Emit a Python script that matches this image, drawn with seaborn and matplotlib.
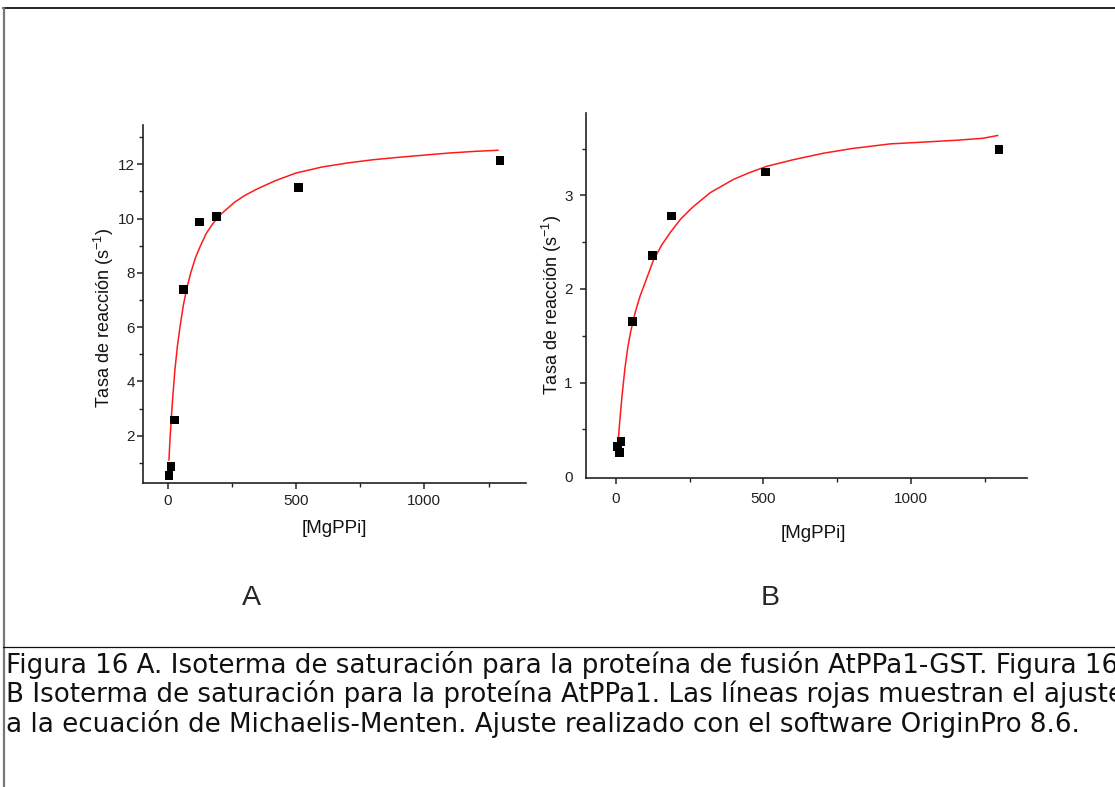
import matplotlib
matplotlib.use("Agg")
import matplotlib.pyplot as plt
from matplotlib.lines import Line2D
from matplotlib.ticker import FixedLocator
import numpy as np
import pandas as pd
import seaborn as sns

# ---------------- data ----------------
# Panel A: AtPPa1-GST
a_conc = [5, 13, 27, 62, 125, 189, 509, 1295]
a_rate = [0.55, 0.86, 2.58, 7.40, 9.88, 10.07, 11.14, 12.13]
a_fit_conc = [5, 9, 14, 19, 28, 38, 48, 61, 75, 90, 108, 126, 150, 175, 200, 230, 260,
              300, 350, 420, 500, 600, 700, 800, 900, 1000, 1100, 1200, 1288]
a_fit_rate = [1.10, 1.84, 2.60, 3.30, 4.40, 5.30, 6.00, 6.80, 7.45, 8.00, 8.55, 8.96,
              9.45, 9.80, 10.10, 10.35, 10.60, 10.85, 11.10, 11.40, 11.68, 11.90, 12.05,
              12.17, 12.26, 12.34, 12.42, 12.48, 12.52]

# Panel B: AtPPa1
b_conc = [6, 11, 17, 55, 124, 188, 508, 1299]
b_rate = [0.32, 0.25, 0.37, 1.65, 2.36, 2.78, 3.25, 3.49]
b_fit_conc = [4.5, 9, 14, 20, 30, 40, 50, 65, 81, 100, 127, 155, 183, 220, 262, 320, 398,
              450, 511, 600, 703, 800, 930, 1048, 1161, 1245, 1295]
b_fit_rate = [0.23, 0.45, 0.64, 0.85, 1.15, 1.38, 1.55, 1.75, 1.92, 2.08, 2.31, 2.47,
              2.60, 2.75, 2.88, 3.03, 3.17, 3.24, 3.31, 3.38, 3.45, 3.50, 3.55, 3.57,
              3.59, 3.61, 3.64]

a_xticks = [0, 500, 1000]
a_xtick_labels = ["0", "500", "1000"]
a_yticks = [2, 4, 6, 8, 10, 12]
a_ytick_labels = ["2", "4", "6", "8", "10", "12"]
b_xticks = [0, 500, 1000]
b_xtick_labels = ["0", "500", "1000"]
b_yticks = [0, 1, 2, 3]
b_ytick_labels = ["0", "1", "2", "3"]

ylabel_text = "Tasa de reacción (s$^{-1}$)"
xlabel_text = "[MgPPi]"
panel_labels = ["A", "B"]
caption_lines = [
    "Figura 16 A. Isoterma de saturación para la proteína de fusión AtPPa1-GST. Figura 16",
    "B Isoterma de saturación para la proteína AtPPa1. Las líneas rojas muestran el ajuste",
    "a la ecuación de Michaelis-Menten. Ajuste realizado con el software OriginPro 8.6.",
]

# ---------------- style ----------------
sns.set_style("ticks")
plt.rcParams["font.family"] = ["Liberation Sans", "DejaVu Sans"]
plt.rcParams["mathtext.default"] = "regular"
narrow = ["Liberation Sans Narrow", "Liberation Sans", "DejaVu Sans"]

W, H = 1115, 787
fig = plt.figure(figsize=(W / 100, H / 100), dpi=100)
fig.patch.set_facecolor("white")


def px_axes(l, t, r, b):
    return fig.add_axes([l / W, 1 - b / H, (r - l) / W, (b - t) / H])


axA = px_axes(143, 125, 526, 483)
axB = px_axes(586, 113, 1027, 478)

dfA = pd.DataFrame({"conc": a_conc, "rate": a_rate})
dfAf = pd.DataFrame({"conc": a_fit_conc, "rate": a_fit_rate})
dfB = pd.DataFrame({"conc": b_conc, "rate": b_rate})
dfBf = pd.DataFrame({"conc": b_fit_conc, "rate": b_fit_rate})

red = "#ff1a1a"
for ax, dfp, dff in [(axA, dfA, dfAf), (axB, dfB, dfBf)]:
    sns.lineplot(data=dff, x="conc", y="rate", ax=ax, color=red, lw=1.1,
                 estimator=None, sort=True)
    sns.scatterplot(data=dfp, x="conc", y="rate", ax=ax, marker="s", s=40,
                    color="black", edgecolor="none", zorder=5)

axA.set_xlim(-96, 1396)
axA.set_ylim(0.26, 13.45)
axB.set_xlim(-102, 1394)
axB.set_ylim(-0.02, 3.88)

axA.xaxis.set_major_locator(FixedLocator(a_xticks))
axA.set_xticklabels(a_xtick_labels)
axA.yaxis.set_major_locator(FixedLocator(a_yticks))
axA.set_yticklabels(a_ytick_labels)
axA.xaxis.set_minor_locator(FixedLocator([250, 750, 1250]))
axA.yaxis.set_minor_locator(FixedLocator([1, 3, 5, 7, 9, 11, 13]))

axB.xaxis.set_major_locator(FixedLocator(b_xticks))
axB.set_xticklabels(b_xtick_labels)
axB.yaxis.set_major_locator(FixedLocator(b_yticks))
axB.set_yticklabels(b_ytick_labels)
axB.xaxis.set_minor_locator(FixedLocator([250, 750, 1250]))
axB.yaxis.set_minor_locator(FixedLocator([0.5, 1.5, 2.5, 3.5]))

for ax in (axA, axB):
    sns.despine(ax=ax)
    for s in ("left", "bottom"):
        ax.spines[s].set_linewidth(1.2)
        ax.spines[s].set_color("#222222")
    ax.tick_params(which="major", direction="out", length=4.5, width=1.1,
                   color="#222222", labelsize=11, labelcolor="#222222")
    ax.tick_params(which="minor", direction="out", length=3, width=1.0,
                   color="#222222")
    for lab in ax.get_xticklabels() + ax.get_yticklabels():
        lab.set_family(narrow)
    ax.set_ylabel(ylabel_text, fontsize=13, color="#111111")
    ax.set_xlabel(xlabel_text, fontsize=13.5, color="#111111", family=narrow)

axA.tick_params(axis="y", which="major", pad=1.5)
axA.tick_params(axis="x", which="major", pad=3.5)
axB.tick_params(axis="y", which="major", pad=5)
axB.tick_params(axis="x", which="major", pad=5.5)
axB.yaxis.get_major_ticks()[0].tick1line.set_visible(False)

axA.yaxis.set_label_coords(-0.07, 0.46)
axA.xaxis.set_label_coords(0.5, -0.104)
axB.yaxis.set_label_coords(-0.05, 0.475)
axB.xaxis.set_label_coords(0.515, -0.13)

# panel letters
fig.text(251 / W, 1 - 598 / H, panel_labels[0], fontsize=20.5, ha="center", va="center")
fig.text(770 / W, 1 - 598 / H, panel_labels[1], fontsize=20.5, ha="center", va="center")

# caption
for i, (line, yb) in enumerate(zip(caption_lines, [673, 702.5, 732])):
    fig.text(6 / W, 1 - yb / H, line, fontsize=18.8, ha="left", va="baseline",
             color="#111111", family=["DejaVu Sans"])

# table borders
fig.add_artist(Line2D([3 / W, 1], [1 - 8 / H, 1 - 8 / H], transform=fig.transFigure,
                      color="#111111", lw=1.3))
fig.add_artist(Line2D([3.5 / W, 3.5 / W], [0, 1 - 8 / H], transform=fig.transFigure,
                      color="#777777", lw=1.6))
fig.add_artist(Line2D([3 / W, 1], [1 - 647 / H, 1 - 647 / H], transform=fig.transFigure,
                      color="#111111", lw=0.9))

fig.savefig("out.png", dpi=100, facecolor="white")
